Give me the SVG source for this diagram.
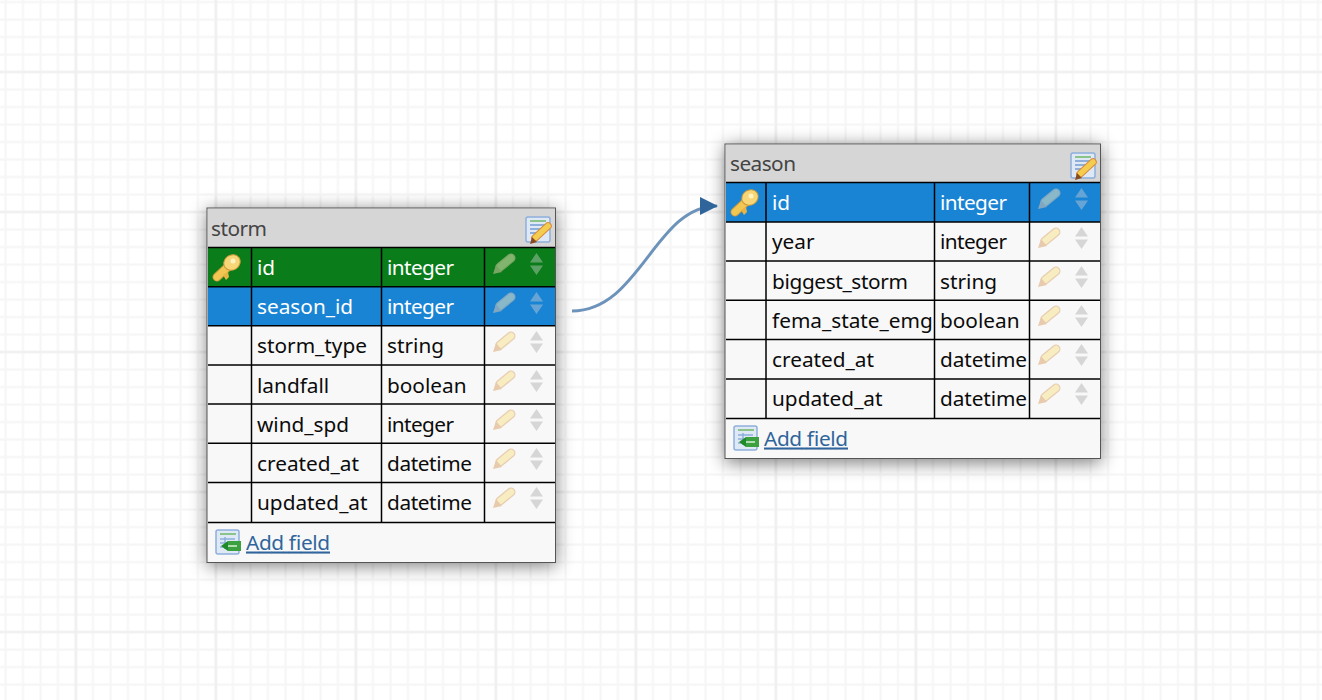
<svg xmlns="http://www.w3.org/2000/svg" width="1322" height="700" viewBox="0 0 1322 700">
<style>
.t{font-family:"Noto Sans","Open Sans",sans-serif;font-size:20.8px;fill:#0b0b0b}
.w{fill:#fff}
.h{fill:#444}
.l{stroke:#000;stroke-width:1.5;fill:none}
.a{fill:#2f659b;text-decoration:underline}
</style>
<defs>
<pattern id="g" x="4" y="0.500" width="17.5" height="17.5" patternUnits="userSpaceOnUse"><path d="M1.500 0V17.5M0 1.500H17.5" stroke="#f6f6f6" stroke-width="2.200" fill="none"/></pattern>
<pattern id="G" x="74.500" y="70.500" width="140" height="140" patternUnits="userSpaceOnUse"><path d="M1.500 0V140M0 1.500H140" stroke="#efefef" stroke-width="2.200" fill="none"/></pattern>
<filter id="s" x="-10%" y="-10%" width="120%" height="120%"><feGaussianBlur stdDeviation="9"/></filter>
<marker id="m" markerUnits="userSpaceOnUse" markerWidth="20" markerHeight="20" refX="17" refY="9" orient="auto"><path d="M0 0L18 9L0 18Z" fill="#2f659b"/></marker>
<g id="key"><path d="M5 24L19 11" stroke="#c99a3a" stroke-width="9" stroke-linecap="round" fill="none"/><path d="M5 24L19 11" stroke="#f2c653" stroke-width="7" stroke-linecap="round" fill="none"/><path d="M11 22l3 5 3-3-1-5z" fill="#e8b545"/><ellipse cx="20" cy="9.500" rx="8.500" ry="7.500" transform="rotate(-35 20 9.500)" fill="#f7d677" stroke="#c99a3a" stroke-width="1"/><circle cx="21" cy="8" r="2.500" fill="#fff3c0"/></g>
<g id="pen"><path d="M7 14L18 5" stroke="#e8cdb2" stroke-width="9" stroke-linecap="round" fill="none"/><path d="M7 14L18 5" stroke="#f7edc0" stroke-width="6.500" stroke-linecap="round" fill="none"/><path d="M0 21l3-9 6 7z" fill="#e8cbad"/></g>
<g id="ud"><path d="M6.500 0L13 9.500H0Z M0 12.500H13L6.500 22Z" fill="#d6d6d6"/></g>
<g id="edit"><rect x="1" y="1" width="24" height="25" rx="2" fill="#dfe9f6" stroke="#8eaedc" stroke-width="1.500"/><rect x="5" y="4" width="16" height="2" fill="#8bc48b"/><path d="M5 9h15M5 13h12M5 17h9" stroke="#8eaedc" stroke-width="2"/><path d="M10 22L23 10" stroke="#d88a3a" stroke-width="7.500" stroke-linecap="round" fill="none"/><path d="M10 22L23 10" stroke="#f4cc50" stroke-width="5.500" stroke-linecap="round" fill="none"/><path d="M5 28l2-7 5 5z" fill="#8a4a20"/></g>
<g id="add"><rect x="1" y="1" width="23" height="24" rx="2" fill="#dfe9f6" stroke="#8eaedc" stroke-width="1.500"/><path d="M5 5h16" stroke="#8bc48b" stroke-width="2"/><path d="M5 10h15M5 14h6M5 18h6M10 8v12" stroke="#8eaedc" stroke-width="1.500"/><rect x="13" y="12" width="13" height="10" fill="#3aa040"/><path d="M6 17l7-5v10z" fill="#1f8a2a"/><path d="M13 17h9" stroke="#d8f0d8" stroke-width="1.500"/></g>
</defs>
<rect width="1322" height="700" fill="#fff"/>
<rect width="1322" height="700" fill="url(#g)"/>
<rect width="1322" height="700" fill="url(#G)"/>

<g id="storm">
<rect x="207" y="210" width="349" height="356" fill="#000" opacity=".5" filter="url(#s)"/>
<rect x="207" y="208" width="348.500" height="354.500" fill="#f8f8f8" stroke="#555" stroke-width="1"/>
<rect x="208" y="209" width="347" height="39" fill="#d6d6d6"/>
<rect x="208" y="248" width="347" height="39" fill="#0a7d1a"/>
<rect x="208" y="287" width="347" height="39" fill="#1a84d4"/>
<path class="l" d="M208 247.500H555M208 286.750H555M208 325.750H555M208 365H555M208 404H555M208 443.250H555M208 482.500H555M208 522.500H555M251.500 248V522M381.500 248V522M484.500 248V522"/>
<text class="t h" x="211" y="236" textLength="56">storm</text>
<use href="#edit" x="525" y="216"/>
<use href="#key" x="212" y="253"/>
<text class="t w" x="257" y="275">id</text><text class="t w" x="387" y="275" textLength="67">integer</text>
<text class="t w" x="257" y="314">season_id</text><text class="t w" x="387" y="314" textLength="67">integer</text>
<text class="t" x="257" y="353">storm_type</text><text class="t" x="387" y="353">string</text>
<text class="t" x="257" y="392.500">landfall</text><text class="t" x="387" y="392.500">boolean</text>
<text class="t" x="257" y="432">wind_spd</text><text class="t" x="387" y="432" textLength="67">integer</text>
<text class="t" x="257" y="471">created_at</text><text class="t" x="387" y="471" textLength="85">datetime</text>
<text class="t" x="257" y="510">updated_at</text><text class="t" x="387" y="510" textLength="85">datetime</text>
<g opacity=".5"><use href="#pen" x="493" y="253"/></g>
<g opacity=".4"><use href="#ud" x="530" y="253"/></g>
<g opacity=".5"><use href="#pen" x="493" y="292"/></g>
<g opacity=".4"><use href="#ud" x="530" y="292"/></g>
<use href="#pen" x="493" y="331"/><use href="#ud" x="530" y="331"/>
<use href="#pen" x="493" y="370"/><use href="#ud" x="530" y="370"/>
<use href="#pen" x="493" y="409"/><use href="#ud" x="530" y="409"/>
<use href="#pen" x="493" y="448"/><use href="#ud" x="530" y="448"/>
<use href="#pen" x="493" y="487"/><use href="#ud" x="530" y="487"/>
<use href="#add" x="215" y="529"/>
<text class="t a" x="246" y="549.500" textLength="84">Add field</text>
</g>

<g id="season">
<rect x="725" y="146" width="376" height="317" fill="#000" opacity=".5" filter="url(#s)"/>
<rect x="725" y="144" width="375.500" height="314.500" fill="#f8f8f8" stroke="#555" stroke-width="1"/>
<rect x="726" y="145" width="374" height="38" fill="#d6d6d6"/>
<rect x="726" y="183" width="374" height="39" fill="#1a84d4"/>
<path class="l" d="M726 182.500H1100M726 222H1100M726 261H1100M726 300.250H1100M726 339.500H1100M726 379H1100M726 418.500H1100M766 183V418M934.500 183V418M1029.500 183V418"/>
<text class="t h" x="730" y="171" textLength="66">season</text>
<use href="#edit" x="1070" y="152"/>
<use href="#key" x="730" y="188"/>
<text class="t w" x="772" y="210">id</text><text class="t w" x="940" y="210" textLength="67">integer</text>
<text class="t" x="772" y="249">year</text><text class="t" x="940" y="249" textLength="67">integer</text>
<text class="t" x="772" y="289" textLength="136">biggest_storm</text><text class="t" x="940" y="289">string</text>
<text class="t" x="772" y="328">fema_state_emg</text><text class="t" x="940" y="328">boolean</text>
<text class="t" x="772" y="367">created_at</text><text class="t" x="940" y="367" textLength="87">datetime</text>
<text class="t" x="772" y="406">updated_at</text><text class="t" x="940" y="406" textLength="87">datetime</text>
<g opacity=".5"><use href="#pen" x="1038" y="188"/></g>
<g opacity=".4"><use href="#ud" x="1075" y="188"/></g>
<use href="#pen" x="1038" y="227"/><use href="#ud" x="1075" y="227"/>
<use href="#pen" x="1038" y="266"/><use href="#ud" x="1075" y="266"/>
<use href="#pen" x="1038" y="305"/><use href="#ud" x="1075" y="305"/>
<use href="#pen" x="1038" y="344"/><use href="#ud" x="1075" y="344"/>
<use href="#pen" x="1038" y="383"/><use href="#ud" x="1075" y="383"/>
<use href="#add" x="733" y="425"/>
<text class="t a" x="764" y="445.500" textLength="84">Add field</text>
</g>

<g id="connectors">
<path d="M572 311C640 311 655 206 717 206" fill="none" stroke="#6d93bb" stroke-width="3" marker-end="url(#m)"/>
</g>
</svg>
